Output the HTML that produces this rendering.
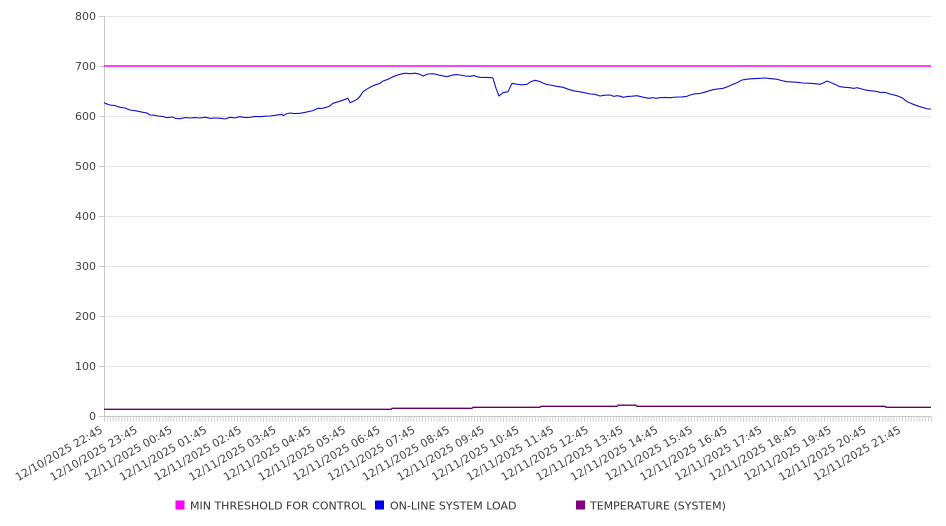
<!DOCTYPE html>
<html>
<head>
<meta charset="utf-8">
<style>
  html,body{margin:0;padding:0;background:#fff;}
  svg{display:block;}
  text{font-family:"DejaVu Sans","Liberation Sans",sans-serif;}
</style>
</head>
<body>
<svg width="946" height="526" viewBox="0 0 946 526" xmlns="http://www.w3.org/2000/svg">
  <!-- gridlines -->
  <g stroke="#e8e8e8" stroke-width="1">
    <line x1="104" y1="16.5" x2="931" y2="16.5"/>
    <line x1="104" y1="116.5" x2="931" y2="116.5"/>
    <line x1="104" y1="166.5" x2="931" y2="166.5"/>
    <line x1="104" y1="216.5" x2="931" y2="216.5"/>
    <line x1="104" y1="266.5" x2="931" y2="266.5"/>
    <line x1="104" y1="316.5" x2="931" y2="316.5"/>
    <line x1="104" y1="366.5" x2="931" y2="366.5"/>
  </g>
  <!-- y ticks -->
  <g stroke="#c8c8c8" stroke-width="1">
    <line x1="99" y1="16.5" x2="104" y2="16.5"/>
    <line x1="99" y1="66.5" x2="104" y2="66.5"/>
    <line x1="99" y1="116.5" x2="104" y2="116.5"/>
    <line x1="99" y1="166.5" x2="104" y2="166.5"/>
    <line x1="99" y1="216.5" x2="104" y2="216.5"/>
    <line x1="99" y1="266.5" x2="104" y2="266.5"/>
    <line x1="99" y1="316.5" x2="104" y2="316.5"/>
    <line x1="99" y1="366.5" x2="104" y2="366.5"/>
    <line x1="99" y1="416.5" x2="104" y2="416.5"/>
  </g>
  <!-- axes -->
  <line x1="104.5" y1="16" x2="104.5" y2="417" stroke="#c8c8c8" stroke-width="1"/>
  <line x1="104" y1="416.5" x2="931" y2="416.5" stroke="#c8c8c8" stroke-width="1"/>
  <!-- minor x ticks -->
  <line x1="104" y1="419" x2="932" y2="419" stroke="#cfcfcf" stroke-width="5" stroke-dasharray="1 1.8916"/>

  <!-- y labels -->
  <g font-size="11" fill="#444" text-anchor="end">
    <text x="96" y="20">800</text>
    <text x="96" y="70">700</text>
    <text x="96" y="120">600</text>
    <text x="96" y="170">500</text>
    <text x="96" y="220">400</text>
    <text x="96" y="270">300</text>
    <text x="96" y="320">200</text>
    <text x="96" y="370">100</text>
    <text x="96" y="420">0</text>
  </g>

  <!-- threshold -->
  <line x1="104" y1="66" x2="931" y2="66" stroke="#ff00ff" stroke-width="1.6"/>

  <!-- temperature -->
  <polyline fill="none" stroke="#660066" stroke-width="1.3"
    points="104,409.3 391,409.3 392,408.3 472,408.3 473,407.3 540,407.3 541,406.3 617,406.3 618,405.2 636,405.2 637,406.3 885,406.3 886,407.3 931,407.3"/>

  <!-- system load -->
  <polyline fill="none" stroke="#1010cc" stroke-width="1.1" stroke-linejoin="round"
    points="104,102.5 105,103.3 110,105 115,105.6 120,107.3 125,108 130,110 136,110.8 143,112.3 147,113 150,115 154,115.2 158,116 162,116.4 167,117.7 172,117 176,118.4 180,118.7 185,117.6 190,118 195,117.6 200,118 205,117.2 210,118.3 215,118 220,118.2 225,119 230,117.3 235,117.9 240,116.7 245,117.6 250,117.3 255,116.4 260,116.7 265,116.2 270,116 276,115.2 282,114.3 283,115.7 286,114 290,113 295,113.6 300,113.3 304,112.6 308,111.7 313,110.6 318,108.3 322,108.4 325,107.7 329,106.4 333,103.3 340,101.2 348,98.3 350,102.7 354,101 357,99.3 360,96.3 363,91.7 368,88.4 373,85.7 377,84.3 380,83.3 383,81 388,79.3 393,76.7 396,75.6 400,74.3 405,73.2 410,73.7 415,73.2 420,74.3 423,76 428,74 433,73.7 438,74.9 442,75.7 447,76.7 452,75.2 456,74.6 460,75 465,76 470,76.3 474,75.6 477,76.7 480,77.3 486,77.4 492,77.7 493,78.3 496,88.3 499,96 503,92.7 508,91.7 512,83.3 517,84.3 522,84.8 527,84.3 531,81.6 535,80.3 539,81.3 543,83 546,84.3 550,85 556,86.2 563,87.3 568,89.2 573,90.7 578,91.6 583,92.3 590,94 595,94.3 600,96 605,95.2 610,95 614,96.4 617,95.7 620,96.2 623,97.3 628,96.4 632,96.2 637,95.7 643,97.2 649,98.3 653,97.6 656,98.3 660,97.7 665,97.4 670,97.7 677,97 682,96.9 687,96.3 690,95 695,93.8 699,93.6 703,92.7 708,91.2 713,89.7 718,88.9 723,88.3 727,87 733,84.3 738,82.2 742,80 747,79.2 753,78.7 759,78.4 765,78 770,78.6 777,79.3 782,80.6 787,81.7 792,81.9 797,82.3 803,83 808,83.2 814,83.6 820,84.3 823,83.1 827,81 831,82.6 836,84.9 840,86.7 845,87.3 850,87.7 854,88.4 857,87.7 860,88.5 865,89.9 870,90.7 875,91.2 880,92.3 885,92.4 890,94 897,95.7 902,97.7 907,101.7 912,103.8 917,105.7 922,107.3 928,109 931,109"/>

  <!-- x labels -->
  <g font-size="11" fill="#444" text-anchor="end">
    <text transform="translate(103.5,432) rotate(-30)">12/10/2025 22:45</text>
    <text transform="translate(138.2,432) rotate(-30)">12/10/2025 23:45</text>
    <text transform="translate(172.9,432) rotate(-30)">12/11/2025 00:45</text>
    <text transform="translate(207.6,432) rotate(-30)">12/11/2025 01:45</text>
    <text transform="translate(242.3,432) rotate(-30)">12/11/2025 02:45</text>
    <text transform="translate(277,432) rotate(-30)">12/11/2025 03:45</text>
    <text transform="translate(311.7,432) rotate(-30)">12/11/2025 04:45</text>
    <text transform="translate(346.4,432) rotate(-30)">12/11/2025 05:45</text>
    <text transform="translate(381.1,432) rotate(-30)">12/11/2025 06:45</text>
    <text transform="translate(415.8,432) rotate(-30)">12/11/2025 07:45</text>
    <text transform="translate(450.5,432) rotate(-30)">12/11/2025 08:45</text>
    <text transform="translate(485.2,432) rotate(-30)">12/11/2025 09:45</text>
    <text transform="translate(519.9,432) rotate(-30)">12/11/2025 10:45</text>
    <text transform="translate(554.6,432) rotate(-30)">12/11/2025 11:45</text>
    <text transform="translate(589.3,432) rotate(-30)">12/11/2025 12:45</text>
    <text transform="translate(624,432) rotate(-30)">12/11/2025 13:45</text>
    <text transform="translate(658.7,432) rotate(-30)">12/11/2025 14:45</text>
    <text transform="translate(693.4,432) rotate(-30)">12/11/2025 15:45</text>
    <text transform="translate(728.1,432) rotate(-30)">12/11/2025 16:45</text>
    <text transform="translate(762.8,432) rotate(-30)">12/11/2025 17:45</text>
    <text transform="translate(797.5,432) rotate(-30)">12/11/2025 18:45</text>
    <text transform="translate(832.2,432) rotate(-30)">12/11/2025 19:45</text>
    <text transform="translate(866.9,432) rotate(-30)">12/11/2025 20:45</text>
    <text transform="translate(901.6,432) rotate(-30)">12/11/2025 21:45</text>
  </g>

  <!-- legend -->
  <rect x="175.5" y="500.5" width="9" height="9" fill="#ff00ff"/>
  <text x="190" y="509.5" font-size="11" fill="#333">MIN THRESHOLD FOR CONTROL</text>
  <rect x="375" y="500.5" width="9" height="9" fill="#0000ee"/>
  <text x="390" y="509.5" font-size="11" fill="#333">ON-LINE SYSTEM LOAD</text>
  <rect x="576" y="500.5" width="9" height="9" fill="#800080"/>
  <text x="590" y="509.5" font-size="11" fill="#333">TEMPERATURE (SYSTEM)</text>
</svg>
</body>
</html>
